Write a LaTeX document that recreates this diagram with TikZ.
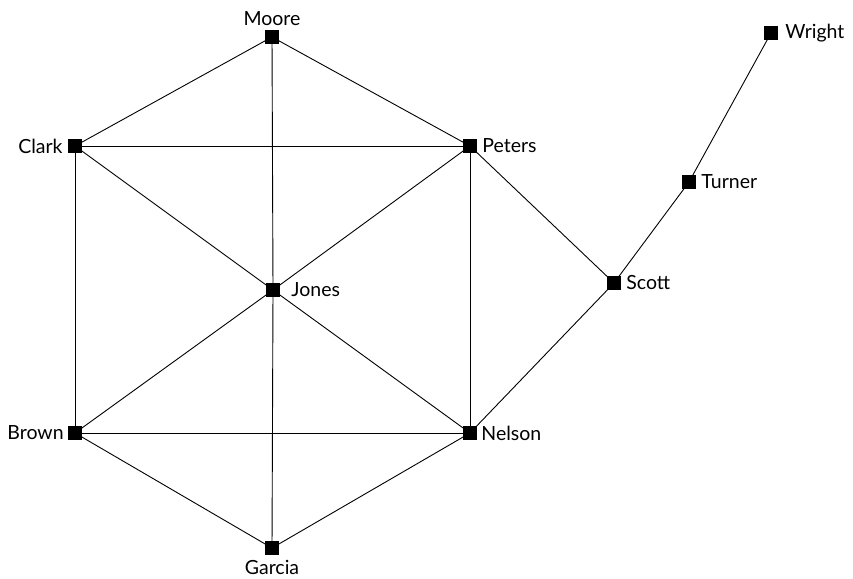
\documentclass[tikz,border=0pt]{standalone}
\usepackage{fontspec}
\setmainfont{Lato}
\begin{document}
\begin{tikzpicture}[x=1pt,y=-1pt,
  vtx/.style={fill=black,draw=none,minimum size=14pt,inner sep=0pt,rectangle},
  lbl/.style={font=\fontsize{19.5}{21}\selectfont,inner sep=0pt},
  edge/.style={draw=black,line width=0.9pt}]
\useasboundingbox (0,0) rectangle (853,578);
\node[vtx,label={[lbl,label distance=4pt]above:Moore}] (moore) at (272,37) {};
\node[vtx,label={[lbl,label distance=5pt]left:Clark}] (clark) at (75,146) {};
\node[vtx,label={[lbl,label distance=5pt]right:Peters}] (peters) at (470,146) {};
\node[vtx,label={[lbl,label distance=11pt]right:Jones}] (jones) at (273,290) {};
\node[vtx,label={[lbl,label distance=4pt]left:Brown}] (brown) at (75,433) {};
\node[vtx,label={[lbl,label distance=4pt]right:Nelson}] (nelson) at (470,433) {};
\node[vtx,label={[lbl,label distance=5pt]below:Garcia}] (garcia) at (272,548) {};
\node[vtx,label={[lbl,label distance=5pt]right:Scott}] (scott) at (614,283) {};
\node[vtx,label={[lbl,label distance=5pt]right:Turner}] (turner) at (689,182) {};
\node[vtx,label={[lbl,label distance=7pt]right:Wright}] (wright) at (771,33) {};
\draw[edge] (moore.center) -- (clark.center);
\draw[edge] (moore.center) -- (peters.center);
\draw[edge] (moore.center) -- (jones.center);
\draw[edge] (clark.center) -- (peters.center);
\draw[edge] (clark.center) -- (jones.center);
\draw[edge] (clark.center) -- (brown.center);
\draw[edge] (peters.center) -- (jones.center);
\draw[edge] (peters.center) -- (nelson.center);
\draw[edge] (peters.center) -- (scott.center);
\draw[edge] (jones.center) -- (brown.center);
\draw[edge] (jones.center) -- (nelson.center);
\draw[edge] (jones.center) -- (garcia.center);
\draw[edge] (brown.center) -- (nelson.center);
\draw[edge] (brown.center) -- (garcia.center);
\draw[edge] (nelson.center) -- (garcia.center);
\draw[edge] (nelson.center) -- (scott.center);
\draw[edge] (scott.center) -- (turner.center);
\draw[edge] (turner.center) -- (wright.center);
\foreach \n in {moore,clark,peters,jones,brown,nelson,garcia,scott,turner,wright}
  \fill (\n.south west) rectangle (\n.north east);
\end{tikzpicture}
\end{document}
